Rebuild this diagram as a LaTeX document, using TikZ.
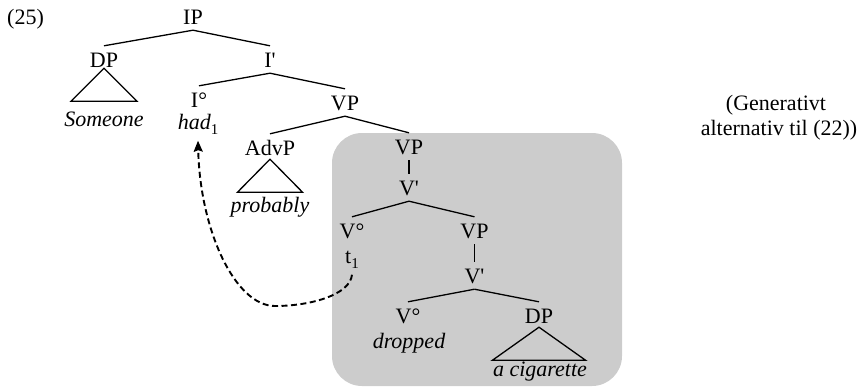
\documentclass[tikz,border=0pt]{standalone}
\usepackage{fontspec}
\setmainfont{Liberation Serif}[Ligatures=TeXOff]
\usetikzlibrary{arrows.meta}
\definecolor{boxgray}{RGB}{204,204,204}
\newcommand{\subn}[1]{\raisebox{-0.25em}{\fontsize{15}{15}\selectfont\upshape #1}}
\tikzset{
  txt/.style={font=\fontsize{22}{26}\selectfont, inner sep=0pt, anchor=base},
  cat/.style={font=\fontsize{22}{26}\selectfont, text height=15pt, text depth=0pt, inner xsep=2pt, inner ysep=6pt, anchor=base},
  leaf/.style={font=\fontsize{22}{26}\selectfont\itshape, inner ysep=6pt, anchor=base},
  trace/.style={font=\fontsize{22}{26}\selectfont, inner ysep=6pt, anchor=base},
  branch/.style={line width=1.3pt},
  tri/.style={line width=1.3pt, line join=miter},
  mv/.style={line width=1.9pt, dash pattern=on 6pt off 3.5pt, -{Stealth[length=11pt,width=9pt,inset=1.5pt]}}
}
\begin{document}
\begin{tikzpicture}[x=1pt,y=-1pt]
\useasboundingbox (0,0) rectangle (864,386);
\fill[boxgray, rounded corners=30pt] (332,133) rectangle (622,386);

\node[txt, anchor=base west] (ex) at (7,24) {(25)};
\node[txt] (note1) at (776,110) {(Generativt};
\node[txt] (note2) at (779,135) {alternativ til (22))};

\node[cat] (IP) at (193,24) {IP};
\node[cat] (DP) at (104,67) {DP};
\node[cat] (Ib) at (270,67) {I'};
\node[leaf] (someone) at (104,126) {Someone};
\node[cat] (I0) at (199,107) {I°};
\node[leaf] (had) at (198,129) {had\subn{1}};
\node[cat] (VPa) at (345,110) {VP};
\node[cat] (AdvP) at (270,155) {AdvP};
\node[leaf] (probably) at (270,212) {probably};
\node[cat] (VPb) at (409,154) {VP};
\node[cat] (Vb1) at (409,195) {V'};
\node[cat] (V0a) at (352,238) {V°};
\node[trace] (t) at (352,263) {t\subn{1}};
\node[cat] (VPc) at (474.5,238) {VP};
\node[cat] (Vb2) at (474.5,283) {V'};
\node[cat] (V0b) at (408,323) {V°};
\node[leaf] (dropped) at (409,348) {dropped};
\node[cat] (DPb) at (539,323) {DP};
\node[leaf] (cig) at (540,376) {a cigarette};

\draw[branch] (IP.south) -- (DP.north);
\draw[branch] (IP.south) -- (Ib.north);
\draw[branch] (Ib.south) -- (I0.north);
\draw[branch] (Ib.south) -- (VPa.north);
\draw[branch] (VPa.south) -- (AdvP.north);
\draw[branch] (VPa.south) -- (VPb.north);
\draw[branch] (VPb.south) -- (Vb1.north);
\draw[branch] (Vb1.south) -- (V0a.north);
\draw[branch] (Vb1.south) -- (VPc.north);
\draw[branch] (VPc.south) -- (Vb2.north);
\draw[branch] (Vb2.south) -- (V0b.north);
\draw[branch] (Vb2.south) -- (DPb.north);

\draw[tri] ([yshift=5pt]DP.south) -- ++(-33,33) -- ++(66,0) -- cycle;
\draw[tri] ([yshift=2pt]AdvP.south) -- ++(-32.5,33) -- ++(65,0) -- cycle;
\draw[tri] ([yshift=2pt]DPb.south) -- ++(-46.5,33) -- ++(93,0) -- cycle;

\draw[mv] (t.south) .. controls (350,295) and (310,306) .. (275,306)
  .. controls (235,306) and (200,230) .. (had.south);
\end{tikzpicture}
\end{document}
